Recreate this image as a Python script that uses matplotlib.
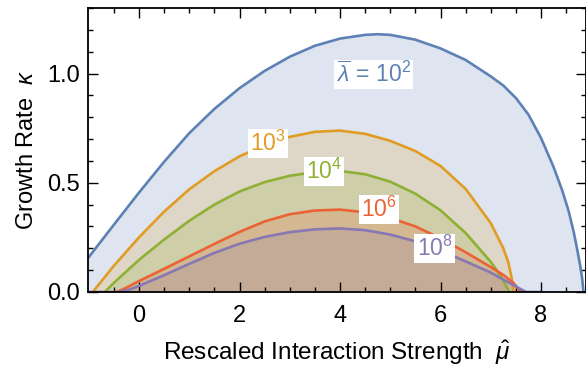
import numpy as np
import matplotlib
matplotlib.use('Agg')
import matplotlib.pyplot as plt

plt.rcParams['font.family'] = ['Liberation Sans', 'DejaVu Sans']
plt.rcParams['mathtext.fontset'] = 'custom'
plt.rcParams['mathtext.rm'] = 'Liberation Sans'
plt.rcParams['mathtext.it'] = 'Liberation Sans:italic'
plt.rcParams['mathtext.bf'] = 'Liberation Sans:bold'

# growth rate kappa vs rescaled interaction strength, one curve per lambda-bar
mu_1e2 = [-1.015, -0.5, 0, 0.5, 1, 1.5, 2, 2.5, 3, 3.5, 4, 4.5, 4.75, 5, 5.5, 6, 6.5, 7,
          7.25, 7.5, 7.75, 8, 8.25, 8.42, 8.55, 8.65, 8.72, 8.78, 8.82, 8.845]
kappa_1e2 = [0.155, 0.308, 0.455, 0.596, 0.727, 0.838, 0.933, 1.012, 1.077, 1.127, 1.16, 1.177,
             1.18, 1.177, 1.155, 1.115, 1.062, 0.987, 0.945, 0.888, 0.812, 0.705, 0.572, 0.466,
             0.37, 0.275, 0.195, 0.12, 0.06, 0.0]

mu_1e3 = [-0.92, -0.5, 0, 0.5, 1, 1.5, 2, 2.5, 3, 3.5, 4, 4.5, 5, 5.5, 6, 6.5, 7,
          7.25, 7.35, 7.42, 7.45]
kappa_1e3 = [0.0, 0.12, 0.25, 0.368, 0.47, 0.553, 0.621, 0.672, 0.71, 0.733, 0.739, 0.724,
             0.692, 0.645, 0.577, 0.472, 0.315, 0.20, 0.135, 0.06, 0.0]

mu_1e4 = [-0.68, -0.5, 0, 0.5, 1, 1.5, 2, 2.5, 3, 3.5, 4, 4.5, 5, 5.5, 6, 6.5, 7, 7.2, 7.3, 7.37]
kappa_1e4 = [0.0, 0.042, 0.147, 0.24, 0.326, 0.40, 0.46, 0.503, 0.532, 0.549, 0.554, 0.539,
             0.505, 0.45, 0.374, 0.27, 0.138, 0.072, 0.03, 0.0]

mu_1e6 = [-0.45, -0.3, -0.15, 0, 0.5, 1, 1.5, 2, 2.5, 3, 3.5, 4, 4.5, 5, 5.5, 6, 6.5, 7,
          7.25, 7.45, 7.6]
kappa_1e6 = [0.0, 0.014, 0.032, 0.05, 0.106, 0.163, 0.22, 0.275, 0.323, 0.356, 0.373, 0.377,
             0.365, 0.339, 0.30, 0.246, 0.182, 0.114, 0.078, 0.042, 0.0]

mu_1e8 = [-1.015, -0.42, -0.2, 0, 0.5, 1, 1.5, 2, 2.5, 3, 3.5, 4, 4.5, 5, 5.5, 6, 6.5, 7,
          7.4, 7.7, 7.97]
kappa_1e8 = [0.0, 0.0, 0.01, 0.028, 0.077, 0.129, 0.179, 0.221, 0.252, 0.274, 0.287, 0.291,
             0.283, 0.263, 0.232, 0.19, 0.14, 0.089, 0.038, 0.0, 0.0]

labels = [r'$\overline{\lambda}\,=\,10^{2}$', r'$10^{3}$', r'$10^{4}$', r'$10^{6}$', r'$10^{8}$']
label_pos = [(4.67, 0.996), (2.57, 0.68), (3.68, 0.553), (4.77, 0.379), (5.88, 0.20)]
colors = ['#5E81B5', '#E19C24', '#8FB032', '#EB6235', '#8778B3']

curves = [(mu_1e2, kappa_1e2), (mu_1e3, kappa_1e3), (mu_1e4, kappa_1e4),
          (mu_1e6, kappa_1e6), (mu_1e8, kappa_1e8)]

fig = plt.figure(figsize=(5.86, 3.69), dpi=100)
ax = fig.add_axes([88 / 586, 1 - 292 / 369, 498 / 586, 284 / 369])

for (mu, kappa), c in zip(curves, colors):
    ax.fill_between(mu, 0, kappa, color=c, alpha=0.2, linewidth=0)
for (mu, kappa), c in zip(curves, colors):
    ax.plot(mu, kappa, color=c, lw=1.9, solid_joinstyle='round')

for text, (x, y), c in zip(labels, label_pos, colors):
    ax.text(x, y, text, color=c, fontsize=16.5, ha='center', va='center',
            bbox=dict(facecolor='white', edgecolor='none', pad=1.5))

ax.set_xlim(-1.015, 8.895)
ax.set_ylim(0, 1.3)
ax.set_xticks([0, 2, 4, 6, 8])
ax.set_xticks(np.arange(-0.5, 8.9, 0.5), minor=True)
ax.set_yticks([0.0, 0.5, 1.0])
ax.set_yticklabels(['0.0', '0.5', '1.0'])
ax.set_yticks(np.arange(0, 1.31, 0.1), minor=True)
ax.tick_params(which='both', direction='in', top=True, right=True, width=1.0,
               labelsize=17, colors='black')
ax.tick_params(which='major', length=7)
ax.tick_params(which='minor', length=3.6)
ax.tick_params(axis='x', pad=9)
ax.tick_params(axis='y', pad=5.5)
for s in ax.spines.values():
    s.set_linewidth(1.3)

ax.set_xlabel(r'Rescaled Interaction Strength  $\hat{\mu}$', fontsize=17.5, va='baseline')
ax.xaxis.set_label_coords(0.5, -0.24)
ax.set_ylabel(r'Growth Rate  $\kappa$', fontsize=17, va='baseline')
ax.yaxis.set_label_coords(-0.110, 0.5)

fig.savefig('out.png', dpi=100)
